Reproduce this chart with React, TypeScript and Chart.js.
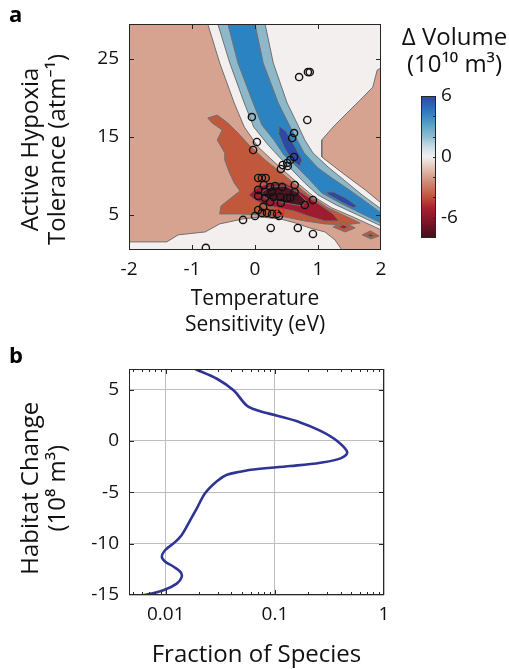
import React, { useEffect, useRef } from 'react';
import { Chart, registerables } from 'chart.js';

Chart.register(...registerables);

type Pt = [number, number];

// ---------------- Panel a : contour map ----------------
const temperatureRange: Pt = [-2, 2];
const toleranceRange: Pt = [0.5, 29.5];
const temperatureTicks = [-2, -1, 0, 1, 2];
const toleranceTicks = [5, 15, 25];

const regionFrame: Pt[] = [[-2, 0.5], [2, 0.5], [2, 29.5], [-2, 29.5]];
// contour edges of the ridge (top -> right border)
const edgeA: Pt[] = [[-0.75, 29.5], [-0.56, 24.49], [-0.33, 19.36], [-0.17, 16.28], [0.05, 13.72], [0.27, 12.05], [0.48, 10.51], [0.71, 8.85], [0.94, 7.31], [1.22, 5.9], [1.59, 4.62], [2.0, 3.08]];
const edgeB: Pt[] = [[-0.59, 29.5], [-0.4, 24.49], [-0.17, 19.36], [-0.02, 16.28], [0.21, 13.97], [0.4, 12.31], [0.59, 10.77], [0.79, 9.1], [1.0, 7.56], [1.29, 6.28], [1.63, 5.0], [2.0, 3.59]];
const edgeC: Pt[] = [[-0.43, 29.5], [-0.27, 24.49], [-0.03, 19.36], [0.11, 16.54], [0.3, 14.62], [0.46, 12.69], [0.65, 11.28], [0.87, 9.49], [1.06, 7.82], [1.35, 6.54], [1.67, 5.26], [2.0, 3.97]];
const edgeD: Pt[] = [[0, 29.5], [0.13, 24.49], [0.37, 19.36], [0.56, 16.28], [0.67, 14.62], [0.78, 12.95], [1.0, 11.03], [1.22, 9.74], [1.43, 8.59], [1.7, 7.05], [2.0, 5.26]];
const edgeE: Pt[] = [[0.16, 29.5], [0.29, 24.49], [0.51, 19.36], [0.68, 16.54], [0.79, 14.62], [0.92, 12.95], [1.16, 11.15], [1.43, 9.36], [1.7, 7.56], [2.0, 5.77]];
const regionRightLoss: Pt[] = [[2.0, 23.85], [1.94, 23.59], [1.87, 21.41], [1.67, 19.74], [1.46, 18.08], [1.24, 16.28], [1.06, 14.62], [1.06, 12.44], [1.43, 10.13], [1.75, 8.21], [2.0, 6.54]];
const regionBottomNeutral: Pt[] = [[-2, 0.5], [-2, 1.54], [-1.4, 1.54], [-1.22, 2.44], [-0.79, 2.82], [-0.56, 3.85], [-0.19, 4.49], [0.08, 4.74], [0.4, 4.49], [0.63, 4.0], [0.87, 3.33], [1.11, 2.82], [1.27, 1.79], [1.38, 0.5]];
const regionGainHigh1: Pt[] = [[0.38, 16.41], [0.49, 15.77], [0.62, 13.97], [0.75, 12.05], [0.71, 11.28], [0.59, 11.92], [0.46, 13.72], [0.37, 15.51]];
const regionGainHigh2: Pt[] = [[1.13, 7.95], [1.25, 7.95], [1.44, 7.18], [1.62, 6.15], [1.56, 5.9], [1.37, 6.67], [1.17, 7.56]];
const regionLoss: Pt[] = [[-0.75, 17.44], [-0.6, 17.82], [-0.43, 16.79], [-0.27, 15.51], [-0.08, 13.85], [0.16, 12.05], [0.4, 10.51], [0.63, 8.97], [0.87, 7.44], [1.16, 5.9], [1.43, 4.87], [1.67, 3.97], [1.43, 3.72], [1.11, 3.85], [0.79, 4.23], [0.48, 4.74], [0.11, 5.0], [-0.24, 5.13], [-0.56, 5.13], [-0.54, 6.15], [-0.24, 8.08], [-0.33, 9.1], [-0.41, 10.51], [-0.48, 12.05], [-0.48, 12.95], [-0.6, 14.62], [-0.52, 15.9], [-0.68, 16.79]];
const regionLossHigh: Pt[] = [[-0.1, 7.56], [0.05, 8.59], [0.24, 9.1], [0.44, 9.23], [0.63, 8.46], [0.84, 7.31], [1.06, 6.15], [1.24, 5.13], [1.33, 4.23], [1.11, 4.23], [0.84, 4.87], [0.62, 5.51], [0.37, 5.9], [0.16, 6.28], [0.0, 6.92]];
const regionLossMax: Pt[] = [[0.11, 7.95], [0.24, 8.59], [0.48, 8.72], [0.67, 7.95], [0.81, 6.79], [0.75, 6.15], [0.56, 6.41], [0.32, 6.79], [0.16, 7.18]];
const patch1: Pt[] = [[1.24, 3.46], [1.4, 4.1], [1.59, 3.33], [1.43, 2.82]];
const patch1Core: Pt[] = [[1.33, 3.46], [1.4, 3.72], [1.48, 3.46], [1.41, 3.21]];
const patch2: Pt[] = [[1.7, 2.44], [1.83, 2.95], [1.97, 2.31], [1.84, 1.92]];
const patch2Core: Pt[] = [[1.78, 2.44], [1.83, 2.56], [1.89, 2.37], [1.83, 2.18]];

const speciesTemp = [0.70, 0.84, 0.87, -0.05, 0.83, 0.62, 0.59, 0.03, -0.03, 0.62, 0.56, 0.51, 0.44, 0.41, 0.52, 0.05, 0.11, 0.17, 0.14, 0.24, 0.32, 0.43, 0.63, 0.05, 0.16, 0.27, 0.05, 0.16, 0.29, 0.40, 0.51, 0.56, 0.63, 0.92, 0.79, 0.24, 0.41, 0.13, 0.05, 0.11, 0.19, 0.27, 0.35, 0.38, 0.0, -0.19, 0.25, 0.68, 0.92, -0.78];
const speciesTol = [22.69, 23.33, 23.33, 17.56, 17.18, 15.51, 14.87, 14.36, 13.33, 12.44, 12.05, 11.67, 11.41, 10.9, 11.28, 9.74, 9.74, 9.74, 8.85, 8.59, 8.72, 8.59, 8.85, 8.21, 7.95, 7.95, 7.44, 7.18, 7.31, 7.31, 7.18, 7.18, 7.95, 6.92, 6.28, 6.67, 6.54, 6.03, 5.64, 5.26, 5.26, 5.13, 5.13, 4.87, 4.87, 4.36, 3.33, 3.33, 2.56, 0.77];
const highlightTemp = [0.4];
const highlightTol = [5.38];

// ---------------- Colour bar ----------------
const colorbarRange: Pt = [-8, 6];
const colorbarTicks = [-8, -6, -4, -2, 0, 2, 4, 6];
const colorbarLabels = [-6, 0, 6];
const colorbarStopValues = [-8, -6.5, -5, -4, -2.5, -1, 0, 1, 2, 3.5, 4.5, 6];
const colorbarStopColors = ['#3d0f19', '#7a1427', '#a8222f', '#c0503a', '#cf8a74', '#e4c6bb', '#f2f0f0', '#c9dde6', '#8ebdd0', '#4b98c5', '#2f78bf', '#2a4aa0'];

// ---------------- Panel b ----------------
const fractionOfSpecies = [0.0186, 0.0294, 0.042, 0.0555, 0.071, 0.105, 0.171, 0.262, 0.372, 0.46, 0.40, 0.262, 0.139, 0.064, 0.048, 0.0363, 0.0294, 0.023, 0.0193, 0.0162, 0.014, 0.0118, 0.0099, 0.0092, 0.0099, 0.0118, 0.0136, 0.014, 0.0126, 0.0095, 0.0062, 0.0046];
const habitatChange = [7.0, 6.05, 4.9, 3.43, 2.94, 2.45, 1.8, 0.98, 0.0, -1.1, -1.7, -2.12, -2.45, -2.78, -3.0, -3.3, -3.92, -5.07, -6.54, -8.0, -9.15, -9.97, -10.62, -11.27, -11.76, -12.25, -12.75, -13.24, -13.89, -14.54, -15.03, -15.2];
const fractionRange: Pt = [0.0046, 1];
const habitatRange: Pt = [-15, 7];
const fractionTicks = [0.01, 0.1, 1];
const fractionMinorTicks = [0.005, 0.006, 0.007, 0.008, 0.009, 0.02, 0.03, 0.04, 0.05, 0.06, 0.07, 0.08, 0.09, 0.2, 0.3, 0.4, 0.5, 0.6, 0.7, 0.8, 0.9];
const habitatTicks = [-15, -10, -5, 0, 5];

// ---------------- styles ----------------
const FONT = "'Open Sans', 'Noto Sans', sans-serif";
const SALMON = '#d6a391';
const WHITE = '#f2efee';
const LIGHT_BLUE = '#8cb8ca';
const MED_BLUE = '#2b84c1';
const DARK_BLUE = '#2b49a5';
const ORANGE = '#c1583b';
const DARK_RED = '#9d1c2f';
const DARKEST = '#4c1522';
const EDGE = '#707070';
const NB = '\u00A0';
const TICK_FONT = { size: 19, family: FONT, weight: 'normal' };
const TITLE_FONT = { size: 24, family: FONT, weight: 'normal', lineHeight: 27 / 24 };

const framePlugin = {
  id: 'frame',
  afterDatasetsDraw(chart: any, _args: any, opts: any) {
    if (!opts || !opts.enabled) return;
    const { ctx, chartArea: a } = chart;
    const xs = chart.scales.x;
    const ys = chart.scales.y;
    ctx.save();
    ctx.strokeStyle = '#262626';
    ctx.lineWidth = 1;
    const mark = (x1: number, y1: number, x2: number, y2: number) => {
      ctx.beginPath();
      ctx.moveTo(x1, y1);
      ctx.lineTo(x2, y2);
      ctx.stroke();
    };
    const drawX = (vals: number[], len: number) => vals.forEach((v) => {
      const p = Math.round(xs.getPixelForValue(v)) + 0.5;
      mark(p, a.bottom, p, a.bottom - len);
      mark(p, a.top, p, a.top + len);
    });
    const drawY = (vals: number[], len: number) => vals.forEach((v) => {
      const p = Math.round(ys.getPixelForValue(v)) + 0.5;
      if (!opts.rightOnly) mark(a.left, p, a.left + len, p);
      mark(a.right, p, a.right - len, p);
    });
    if (opts.xMajor) drawX(opts.xMajor, 5);
    if (opts.xMinor) drawX(opts.xMinor, 3);
    if (opts.yMajor) drawY(opts.yMajor, opts.rightOnly ? 3 : 5);
    ctx.strokeRect(a.left + 0.5, a.top + 0.5, a.width - 1, a.height - 1);
    ctx.restore();
  },
};

const xy = (xs: number[], ys: number[]) => xs.map((x, i) => ({ x, y: ys[i] }));
const ptsToXY = (pts: Pt[]) => [...pts, pts[0]].map(([x, y]) => ({ x, y }));

function buildPanelA(): any {
  const layers: { pts: Pt[]; color: string; edge: boolean }[] = [
    { pts: regionFrame, color: SALMON, edge: false },
    { pts: [...edgeA, [2, 29.5]], color: WHITE, edge: true },
    { pts: regionRightLoss, color: SALMON, edge: true },
    { pts: regionBottomNeutral, color: WHITE, edge: true },
    { pts: [...edgeB, ...[...edgeE].reverse()], color: LIGHT_BLUE, edge: true },
    { pts: [...edgeC, ...[...edgeD].reverse()], color: MED_BLUE, edge: true },
    { pts: regionGainHigh1, color: DARK_BLUE, edge: true },
    { pts: regionGainHigh2, color: DARK_BLUE, edge: true },
    { pts: regionLoss, color: ORANGE, edge: true },
    { pts: regionLossHigh, color: DARK_RED, edge: true },
    { pts: regionLossMax, color: DARKEST, edge: true },
    { pts: patch1, color: ORANGE, edge: true },
    { pts: patch1Core, color: DARK_RED, edge: true },
    { pts: patch2, color: ORANGE, edge: true },
    { pts: patch2Core, color: DARK_RED, edge: true },
  ];
  const datasets: any[] = layers.map((l) => ({
    data: ptsToXY(l.pts),
    showLine: true,
    fill: 'shape',
    backgroundColor: l.color,
    borderColor: l.edge ? EDGE : 'rgba(0,0,0,0)',
    borderWidth: 1,
    pointRadius: 0,
    pointHoverRadius: 0,
    tension: 0,
  }));
  datasets.push({
    data: xy(speciesTemp, speciesTol),
    showLine: false,
    pointRadius: 3.6,
    pointBorderWidth: 1.4,
    pointBorderColor: '#111',
    pointBackgroundColor: 'rgba(0,0,0,0)',
  });
  datasets.push({
    data: xy(highlightTemp, highlightTol),
    showLine: false,
    pointRadius: 3.6,
    pointBorderWidth: 1.6,
    pointBorderColor: '#ee2a2a',
    pointBackgroundColor: 'rgba(0,0,0,0)',
  });
  const n = datasets.length;
  datasets.forEach((d, i) => { d.order = n - i; });
  return {
    type: 'scatter',
    data: { datasets },
    plugins: [framePlugin],
    options: {
      responsive: false,
      animation: false,
      devicePixelRatio: 1,
      events: [],
      layout: { padding: { left: 0, top: 24, right: 19, bottom: 0 } },
      plugins: {
        legend: { display: false },
        tooltip: { enabled: false },
        frame: { enabled: true, xMajor: temperatureTicks.slice(1, -1), yMajor: toleranceTicks },
      },
      scales: {
        x: {
          type: 'linear',
          min: temperatureRange[0],
          max: temperatureRange[1],
          afterBuildTicks: (s: any) => { s.ticks = temperatureTicks.map((v) => ({ value: v })); },
          afterFit: (s: any) => { s.height = 95; },
          grid: { display: false, drawTicks: false },
          border: { display: false },
          ticks: { font: TICK_FONT, color: '#111', padding: 8.6, autoSkip: false, maxRotation: 0 },
          title: { display: true, text: ['Temperature', 'Sensitivity (eV)'], font: { ...TITLE_FONT, size: 21, lineHeight: 26 / 21 }, color: '#111', padding: { top: 0, bottom: 7 } },
        },
        y: {
          type: 'linear',
          min: toleranceRange[0],
          max: toleranceRange[1],
          afterBuildTicks: (s: any) => { s.ticks = toleranceTicks.map((v) => ({ value: v })); },
          afterFit: (s: any) => { s.width = 129; },
          grid: { display: false, drawTicks: false },
          border: { display: false },
          ticks: { font: TICK_FONT, color: '#111', padding: 10, autoSkip: false },
          title: { display: true, text: ['Active Hypoxia' + NB.repeat(4), 'Tolerance (atm\u207B\u00B9)' + NB.repeat(4)], font: TITLE_FONT, color: '#111', padding: { top: 17.5, bottom: 0 } },
        },
      },
    },
  };
}

function buildColorbar(): any {
  return {
    type: 'bar',
    data: {
      labels: [''],
      datasets: [{
        data: [[colorbarRange[0], colorbarRange[1]]],
        barPercentage: 1,
        categoryPercentage: 1,
        borderWidth: 0,
        backgroundColor: (c: any) => {
          const chart = c.chart;
          const area = chart.chartArea;
          if (!area) return '#ffffff';
          const g = chart.ctx.createLinearGradient(0, area.bottom, 0, area.top);
          colorbarStopValues.forEach((v, i) => {
            g.addColorStop((v - colorbarRange[0]) / (colorbarRange[1] - colorbarRange[0]), colorbarStopColors[i]);
          });
          return g;
        },
      }],
    },
    plugins: [framePlugin],
    options: {
      responsive: false,
      animation: false,
      devicePixelRatio: 1,
      events: [],
      layout: { padding: { left: 0, top: 0, right: 0, bottom: 22 } },
      plugins: {
        legend: { display: false },
        tooltip: { enabled: false },
        title: {
          display: true,
          text: ['\u0394 Volume', '(10\u00B9\u2070 m\u00B3)'],
          font: TITLE_FONT,
          color: '#111',
          padding: { top: 24.5, bottom: 17.5 },
        },
        frame: { enabled: true, rightOnly: true, yMajor: colorbarTicks.slice(1, -1) },
      },
      scales: {
        x: { display: false },
        spacer: {
          type: 'linear',
          position: 'left',
          display: true,
          afterFit: (s: any) => { s.width = 21; },
          grid: { display: false, drawTicks: false },
          border: { display: false },
          ticks: { display: false },
        },
        y: {
          position: 'right',
          min: colorbarRange[0],
          max: colorbarRange[1],
          afterBuildTicks: (s: any) => { s.ticks = colorbarTicks.map((v) => ({ value: v })); },
          afterFit: (s: any) => { s.width = 73; },
          grid: { display: false, drawTicks: false },
          border: { display: false },
          ticks: {
            font: TICK_FONT,
            color: '#111',
            padding: 5,
            autoSkip: false,
            callback: (v: number) => (colorbarLabels.includes(v) ? String(v) : ''),
          },
        },
      },
    },
  };
}

function buildPanelB(): any {
  return {
    type: 'scatter',
    data: {
      datasets: [{
        data: xy(fractionOfSpecies, habitatChange),
        showLine: true,
        tension: 0.35,
        borderColor: '#2f3594',
        borderWidth: 2.6,
        pointRadius: 0,
        pointHoverRadius: 0,
        fill: false,
      }],
    },
    plugins: [framePlugin],
    options: {
      responsive: false,
      animation: false,
      devicePixelRatio: 1,
      events: [],
      layout: { padding: { left: 0, top: 24, right: 16, bottom: 0 } },
      plugins: {
        legend: { display: false },
        tooltip: { enabled: false },
        frame: { enabled: true, xMajor: fractionTicks.slice(0, -1), xMinor: fractionMinorTicks, yMajor: habitatTicks.slice(1) },
      },
      scales: {
        x: {
          type: 'logarithmic',
          min: fractionRange[0],
          max: fractionRange[1],
          afterBuildTicks: (s: any) => { s.ticks = fractionTicks.map((v) => ({ value: v })); },
          afterFit: (s: any) => { s.height = 74; },
          grid: { color: '#bdbdbd', lineWidth: 1, drawTicks: false },
          border: { display: false },
          ticks: { font: TICK_FONT, color: '#111', padding: 8.6, autoSkip: false, maxRotation: 0, callback: (v: number) => String(v) },
          title: { display: true, text: 'Fraction of Species', font: { ...TITLE_FONT, lineHeight: 26 / 24 }, color: '#111', padding: { top: 0, bottom: 1 } },
        },
        y: {
          type: 'linear',
          min: habitatRange[0],
          max: habitatRange[1],
          afterBuildTicks: (s: any) => { s.ticks = habitatTicks.map((v) => ({ value: v })); },
          afterFit: (s: any) => { s.width = 129; },
          grid: { color: '#bdbdbd', lineWidth: 1, drawTicks: false },
          border: { display: false },
          ticks: { font: TICK_FONT, color: '#111', padding: 10, autoSkip: false },
          title: { display: true, text: ['Habitat Change' + NB.repeat(2), '(10\u2078 m\u00B3)' + NB.repeat(2)], font: TITLE_FONT, color: '#111', padding: { top: 17.5, bottom: 0 } },
        },
      },
    },
  };
}

export default function App() {
  const refA = useRef<HTMLCanvasElement>(null);
  const refC = useRef<HTMLCanvasElement>(null);
  const refB = useRef<HTMLCanvasElement>(null);

  useEffect(() => {
    Chart.defaults.font.family = FONT;
    Chart.defaults.color = '#111';
    const charts: Chart[] = [];
    if (refA.current) charts.push(new Chart(refA.current, buildPanelA()));
    if (refC.current) charts.push(new Chart(refC.current, buildColorbar()));
    if (refB.current) charts.push(new Chart(refB.current, buildPanelB()));
    return () => charts.forEach((c) => c.destroy());
  }, []);

  const labelStyle: React.CSSProperties = {
    position: 'absolute',
    left: 9,
    fontFamily: FONT,
    fontWeight: 700,
    fontSize: 22,
    lineHeight: '22px',
    color: '#000',
  };

  return (
    <div style={{ position: 'absolute', left: 0, top: 0, width: 509, height: 669, background: '#fff', overflow: 'hidden' }}>
      <canvas ref={refA} width={400} height={345} style={{ position: 'absolute', left: 0, top: 0, width: 400, height: 345 }} />
      <canvas ref={refC} width={109} height={260} style={{ position: 'absolute', left: 400, top: 0, width: 109, height: 260 }} />
      <canvas ref={refB} width={400} height={324} style={{ position: 'absolute', left: 0, top: 345, width: 400, height: 324 }} />
      <div style={{ ...labelStyle, top: 2 }}>a</div>
      <div style={{ ...labelStyle, top: 343 }}>b</div>
    </div>
  );
}
